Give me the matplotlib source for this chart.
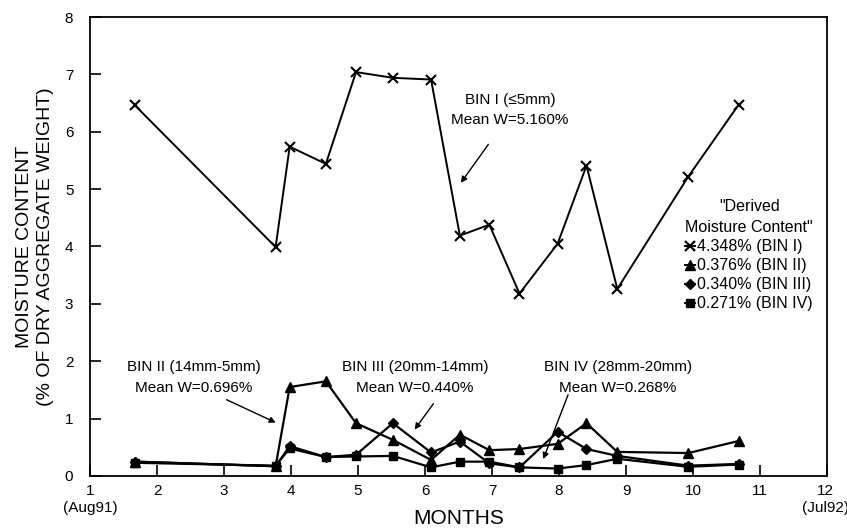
import matplotlib
matplotlib.use("Agg")
import matplotlib.pyplot as plt
from matplotlib.lines import Line2D
import matplotlib.transforms as mtransforms

plt.rcParams['font.family'] = ['Liberation Sans', 'DejaVu Sans']

months = [1.67, 3.77, 3.98, 4.52, 4.97, 5.52, 6.09, 6.52, 6.96, 7.41, 7.98, 8.41, 8.87, 9.93, 10.68]
bin1 = [6.46, 3.99, 5.74, 5.44, 7.04, 6.94, 6.91, 4.19, 4.38, 3.18, 4.05, 5.41, 3.26, 5.22, 6.47]
bin2 = [0.25, 0.17, 1.55, 1.65, 0.92, 0.63, 0.28, 0.72, 0.45, 0.47, 0.56, 0.92, 0.42, 0.40, 0.61]
bin3 = [0.25, 0.17, 0.52, 0.33, 0.37, 0.92, 0.41, 0.60, 0.22, 0.15, 0.77, 0.47, 0.35, 0.18, 0.21]
bin4 = [0.23, 0.18, 0.48, 0.33, 0.34, 0.35, 0.15, 0.25, 0.25, 0.15, 0.13, 0.19, 0.30, 0.16, 0.20]

legend_labels = ["4.348% (BIN I)", "0.376% (BIN II)", "0.340% (BIN III)", "0.271% (BIN IV)"]
xtick_vals = list(range(1, 13))
xtick_labels = ["1\n(Aug91)"] + [str(i) for i in range(2, 12)] + ["12\n(Jul92)"]
ytick_vals = list(range(0, 9))

annotations = [
    ("BIN I (≤5mm)\nMean W=5.160%", (7.27, 6.38), (6.97, 5.82), (6.51, 5.07)),
    ("BIN II (14mm-5mm)\nMean W=0.696%", (2.55, 1.72), (3.0, 1.35), (3.81, 0.91)),
    ("BIN III (20mm-14mm)\nMean W=0.440%", (5.85, 1.72), (6.15, 1.30), (5.82, 0.77)),
    ("BIN IV (28mm-20mm)\nMean W=0.268%", (8.88, 1.72), (8.15, 1.46), (7.75, 0.25)),
]

fig = plt.figure(figsize=(8.47, 5.28), dpi=100)
ax = fig.add_axes([0.1063, 0.0985, 0.8701, 0.8693])

ax.plot(months, bin1, color='black', lw=1.4, marker='x', ms=7.5, mew=1.5)
ax.plot(months, bin2, color='black', lw=1.6, marker='^', ms=7)
ax.plot(months, bin3, color='black', lw=1.6, marker='D', ms=5.5)
ax.plot(months, bin4, color='black', lw=1.6, marker='s', ms=6)

ax.set_xlim(1, 12)
ax.set_ylim(0, 8)
ax.set_xticks(xtick_vals)
ax.set_xticklabels(xtick_labels, fontsize=11)
ax.set_yticks(ytick_vals)
ax.set_yticklabels([str(v) for v in ytick_vals], fontsize=11)
ax.tick_params(axis='both', direction='in', length=8, width=1.2, colors='black')
ax.tick_params(axis='y', pad=12)
ax.tick_params(axis='x', pad=6)
for s in ax.spines.values():
    s.set_linewidth(1.3)

last = ax.get_xticklabels()[-1]
last.set_transform(last.get_transform() + mtransforms.ScaledTranslation(-2 / 100, 0, fig.dpi_scale_trans))

ax.set_xlabel("MONTHS", fontsize=15, labelpad=-4)
ax.set_ylabel("MOISTURE CONTENT\n(% OF DRY AGGREGATE WEIGHT)", fontsize=14, labelpad=8, linespacing=1.3)

for text, tpos, astart, atip in annotations:
    ax.text(tpos[0], tpos[1], text, ha='center', va='center', fontsize=11, linespacing=1.6)
    ax.annotate("", xy=atip, xytext=astart,
                arrowprops=dict(arrowstyle='-|>', color='black', lw=1.0, mutation_scale=9))

handles = [
    Line2D([], [], color='black', marker='x', ms=7, mew=1.6, lw=1.4),
    Line2D([], [], color='black', marker='^', ms=7, lw=1.4),
    Line2D([], [], color='black', marker='D', ms=5.5, lw=1.4),
    Line2D([], [], color='black', marker='s', ms=6, lw=1.4),
]
leg = ax.legend(handles, legend_labels, title='"Derived\nMoisture Content"',
                loc='upper left', bbox_to_anchor=(0.797, 0.62), frameon=False,
                fontsize=11.5, title_fontsize=11.5, handlelength=0.6, handletextpad=0.15,
                labelspacing=0.25, borderpad=0, alignment='center')
leg.get_title().set_linespacing(1.5)
leg.get_title().set_ha('center')

fig.savefig("out.png", dpi=100)
